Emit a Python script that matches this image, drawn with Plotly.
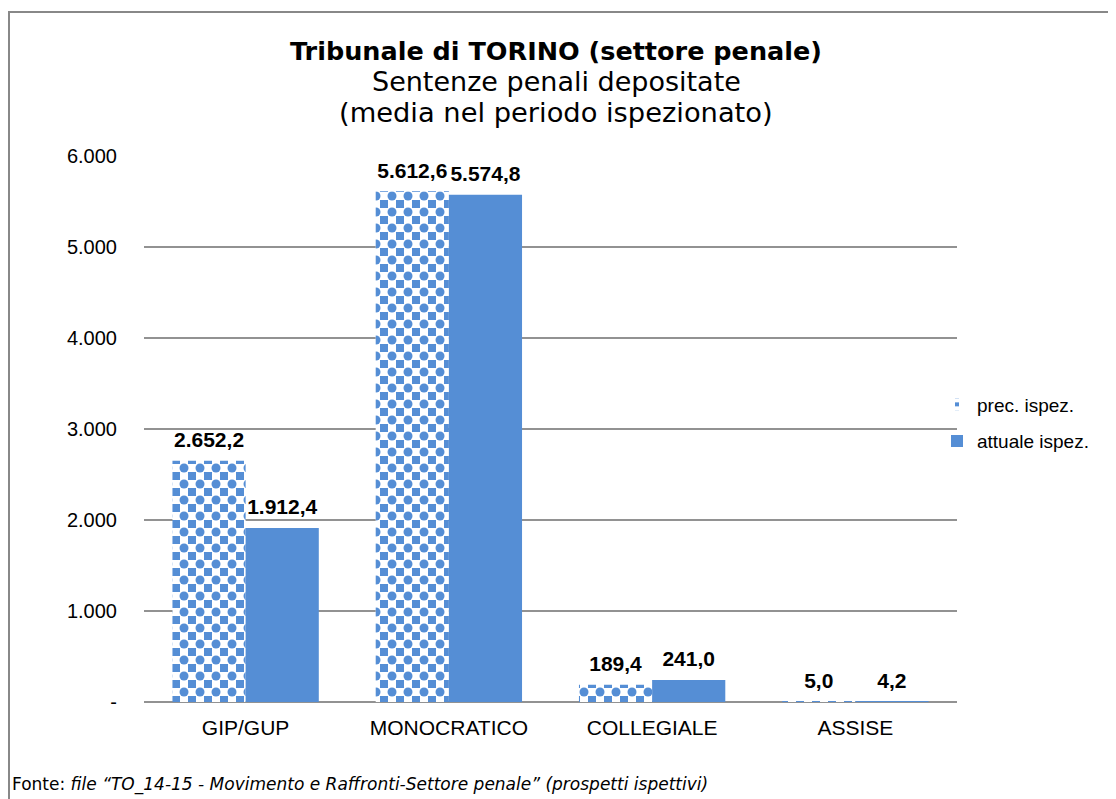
import plotly.graph_objects as go

categories = ["GIP/GUP", "MONOCRATICO", "COLLEGIALE", "ASSISE"]
prec_values = [2652.2, 5612.6, 189.4, 5.0]
attuale_values = [1912.4, 5574.8, 241.0, 4.2]
series_names = ["prec. ispez.", "attuale ispez."]
y_tickvals = [0, 1000, 2000, 3000, 4000, 5000, 6000]
y_ticktext = ["-", "1.000", "2.000", "3.000", "4.000", "5.000", "6.000"]


def fmt(v):
    s = f"{v:,.1f}"
    return s.replace(",", "X").replace(".", ",").replace("X", ".")


BLUE = "#558ed5"
GRID = "#929292"
OFF = 8  # default page body margin
W, H = 1116 - OFF, 799 - OFF
L = 144 - OFF
T = 156 - OFF
R = W - (957 - OFF)
B = H - (702 - OFF)
PW, PH = W - L - R, H - T - B


def px_x(p):
    return (p - OFF - L) / PW


def px_y(p):
    return (H - B - (p - OFF)) / PH


LABEL_FONT = dict(family="Liberation Sans, Arial", size=21, color="black")

fig = go.Figure()

# checkered series: base (blue with white cross grid) + overlaid blue dots
fig.add_trace(go.Bar(
    x=categories, y=prec_values, name=series_names[0],
    offsetgroup="prec", legendgroup="prec",
    marker=dict(color=BLUE, line=dict(width=0),
                pattern=dict(shape="+", fillmode="overlay", fgcolor="white",
                             fgopacity=1, size=16, solidity=0.75)),
    textposition="none",
))
fig.add_trace(go.Bar(
    x=categories, y=prec_values, name=series_names[0],
    offsetgroup="prec", legendgroup="prec", showlegend=False,
    marker=dict(color=BLUE, line=dict(width=0),
                pattern=dict(shape=".", fillmode="replace", fgcolor=BLUE,
                             fgopacity=1, size=16, solidity=0.25)),
    textposition="none", hoverinfo="skip",
))
fig.add_trace(go.Bar(
    x=categories, y=attuale_values, name=series_names[1],
    offsetgroup="att", legendgroup="att",
    marker=dict(color=BLUE, line=dict(width=0)),
    textposition="none",
))

# value labels (grouped scatter text, aligned with the bars)
for name, vals, grp in [(series_names[0], prec_values, "prec"),
                        (series_names[1], attuale_values, "att")]:
    fig.add_trace(go.Scatter(
        x=categories, y=vals, mode="markers+text", name=name,
        offsetgroup=grp, showlegend=False, hoverinfo="skip",
        marker=dict(size=12, opacity=0),
        text=[f"<b>{fmt(v)}</b>" for v in vals], textposition="top center",
        textfont=LABEL_FONT, cliponaxis=False,
    ))

fig.update_layout(
    width=W, height=H,
    margin=dict(l=L, r=R, t=T, b=B, pad=0),
    paper_bgcolor="white", plot_bgcolor="white",
    barmode="group", bargap=0.28, bargroupgap=0.0,
    scattermode="group", scattergap=0.28,
    font=dict(family="Liberation Sans, Arial", size=20, color="black"),
    showlegend=True,
    legend=dict(x=px_x(937), y=px_y(423), xanchor="left", yanchor="middle",
                font=dict(size=19), tracegroupgap=9, traceorder="grouped",
                bgcolor="rgba(0,0,0,0)"),
    xaxis=dict(showgrid=False, showline=False, ticks="",
               tickfont=dict(size=21), ticklabelstandoff=11),
    yaxis=dict(range=[0, 6000], tickvals=y_tickvals, ticktext=y_ticktext,
               showgrid=True, gridcolor=GRID, gridwidth=2,
               zeroline=True, zerolinecolor=GRID, zerolinewidth=2,
               showline=False, ticks="", tickfont=dict(size=20),
               ticklabelstandoff=26),
    shapes=[dict(type="rect", xref="paper", yref="paper",
                 x0=px_x(9), x1=px_x(1116 + 20), y0=px_y(799 + 20), y1=px_y(12),
                 line=dict(color="#888888", width=2), fillcolor="rgba(0,0,0,0)",
                 layer="below")],
    annotations=[
        dict(text="<b>Tribunale di TORINO (settore penale)</b>", xref="paper", yref="paper",
             x=px_x(556), y=px_y(51), xanchor="center", yanchor="middle", showarrow=False,
             font=dict(family="DejaVu Sans, Verdana", size=25.5, color="black")),
        dict(text="Sentenze penali depositate", xref="paper", yref="paper",
             x=px_x(556), y=px_y(81), xanchor="center", yanchor="middle", showarrow=False,
             font=dict(family="DejaVu Sans, Verdana", size=27, color="black")),
        dict(text="(media nel periodo ispezionato)", xref="paper", yref="paper",
             x=px_x(556), y=px_y(112), xanchor="center", yanchor="middle", showarrow=False,
             font=dict(family="DejaVu Sans, Verdana", size=27.3, color="black")),
        dict(text="Fonte: <i>file “TO_14-15 - Movimento e Raffronti-Settore penale” (prospetti ispettivi)</i>",
             xref="paper", yref="paper", x=px_x(10), y=px_y(784), xanchor="left", yanchor="middle",
             showarrow=False, font=dict(family="DejaVu Sans, Verdana", size=17, color="black")),
    ],
)

fig.write_html("out.html")
